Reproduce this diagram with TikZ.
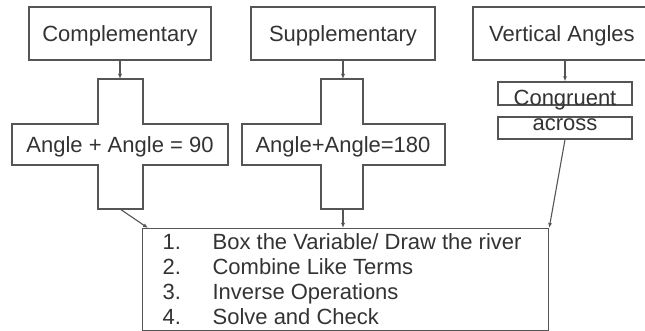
\documentclass[tikz,border=0pt]{standalone}
\usepackage{fontspec}
\setmainfont{Liberation Sans}
\usetikzlibrary{arrows.meta}
\definecolor{linec}{HTML}{555555}
\definecolor{txtc}{HTML}{333333}
\newcommand{\fsz}{\fontsize{22}{25}\selectfont}
\tikzset{
  bx/.style={draw=linec,line width=1.2pt,inner sep=0pt,text=txtc,font=\fsz},
  capmid/.style={text height=15.5pt,text depth=0pt},
  lbl/.style={inner sep=0pt,text=txtc,font=\fsz,anchor=base},
  crs/.style={draw=linec,line width=1.2pt},
  ar/.style={-{Latex[length=5pt,width=4pt]},line width=1.1pt,linec}
}
\begin{document}
\begin{tikzpicture}[x=1pt,y=-1pt]
\useasboundingbox (0,0) rectangle (645,331);
% top row
\node[bx,capmid,minimum width=182pt,minimum height=53pt] (comp) at (120,33.5) {Complementary};
\node[bx,capmid,minimum width=184pt,minimum height=53pt] (supp) at (343,33.5) {Supplementary};
\node[bx,capmid,minimum width=178pt,minimum height=53pt] (vert) at (562,33.5) {Vertical Angles};
% crosses
\draw[crs] (98,79) -- (143,79) -- (143,124) -- (228,124) -- (228,165) -- (143,165)
  -- (143,209) -- (98,209) -- (98,165) -- (12,165) -- (12,124) -- (98,124) -- cycle;
\draw[crs] (321,79) -- (363,79) -- (363,124) -- (445,124) -- (445,165) -- (363,165)
  -- (363,209) -- (321,209) -- (321,165) -- (242,165) -- (242,124) -- (321,124) -- cycle;
\coordinate (c1top) at (120,79); \coordinate (c1bot) at (120,209);
\coordinate (c2top) at (343,79); \coordinate (c2bot) at (343,209);
\node[lbl] (sum90) at (120,152.5) {Angle + Angle = 90};
\node[lbl] (sum180) at (343,152.5) {Angle+Angle=180};
% vertical angles
\node[bx,minimum width=134pt,minimum height=23pt] (cong) at (565,93.5) {};
\node[lbl] (congtxt) at (565,106) {Congruent};
\node[bx,minimum width=134pt,minimum height=22pt,text height=6pt,text depth=0pt] (acr) at (565,128) {across};
% steps
\node[bx,minimum width=406pt,minimum height=102pt,align=left,anchor=north west] (steps) at (142,228)
  {\makebox[50pt][l]{1.}Box the Variable/ Draw the river\hspace*{7pt}\\
   \makebox[50pt][l]{2.}Combine Like Terms\\
   \makebox[50pt][l]{3.}Inverse Operations\\
   \makebox[50pt][l]{4.}Solve and Check};
\coordinate (stin) at (148,228);
% arrows
\draw[ar] (comp.south) -- (c1top);
\draw[ar] (supp.south) -- (c2top);
\draw[ar] (cong.north |- vert.south) -- (cong.north);
\draw[ar] (c1bot) -- (stin);
\draw[ar] (c2bot) -- (c2bot |- steps.north);
\draw[ar] (acr.south) -- (steps.north east);
\end{tikzpicture}
\end{document}
